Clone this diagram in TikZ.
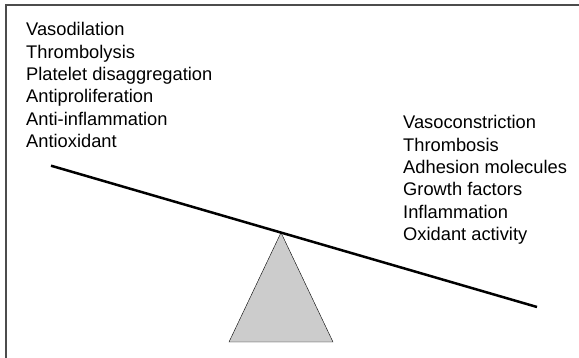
\documentclass[tikz,border=0pt]{standalone}
\usepackage{fontspec}
\setmainfont{Liberation Sans}
\begin{document}
\begin{tikzpicture}[x=1pt,y=-1pt,
    every node/.style={font=\fontsize{18.3}{22.4}\selectfont,align=left,inner sep=0pt}]
      \clip (0,0) rectangle (579,358);
      \draw[line width=2pt,black!70] (6,400) -- (6,5) -- (600,5);
      % anchor base = baseline of the last line
      \node (protect) at (26,147.7) [anchor=base west] {Vasodilation\\Thrombolysis\\Platelet disaggregation\\Antiproliferation\\Anti-inflammation\\Antioxidant};
      \node (harm) at (403,240.7) [anchor=base west] {Vasoconstriction\\Thrombosis\\Adhesion molecules\\Growth factors\\Inflammation\\Oxidant activity};
      \coordinate (beamL) at (51,165.7);
      \coordinate (beamR) at (537,307);
      \coordinate (apex) at (281,232.6);
      \coordinate (baseL) at (229,342);
      \coordinate (baseR) at (333,342);
      \draw[fill=black!20] (apex) -- (baseL) -- (baseR) -- cycle;
      \draw[line width=2.5pt] (beamL) -- (beamR);
    \end{tikzpicture}
\end{document}
